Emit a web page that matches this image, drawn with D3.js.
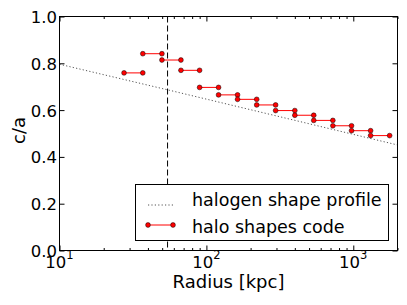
<!DOCTYPE html>
<html lang="en">
<head>
    <meta charset="UTF-8">
    <title>Halo shape c/a</title>
    <style>
        body { margin: 0; background: #fff; }
        svg text { font-family: "DejaVu Sans", sans-serif; fill: #000; }
    </style>
    <script src="https://cdn.jsdelivr.net/npm/d3@7"></script>
</head>
<body>
<script>
    // bin edges of the halo shapes code (kpc) and c/a per bin
    var binEdges = [27.5, 36.9, 49.8, 67.1, 89.9, 121, 163, 220, 296, 400, 538, 726, 973, 1312, 1768];
    var binCa = [0.759, 0.841, 0.814, 0.770, 0.697, 0.665, 0.646, 0.622, 0.598, 0.578, 0.556, 0.533, 0.512, 0.491];

    // halogen shape profile
    var profileRadius = [10, 55, 2000];
    var profileCa = [0.796, 0.686, 0.451];

    var markerRadius = 54.4;

    var xMajor = [10, 100, 1000];
    var xMinor = [20, 30, 40, 50, 60, 70, 80, 90, 200, 300, 400, 500, 600, 700, 800, 900, 2000];
    var yTicks = [0, 0.2, 0.4, 0.6, 0.8, 1.0];

    var margin = {top: 16.5, right: 9.5, bottom: 54.5, left: 59.5};
    var W = 407, H = 305;
    var width = W - margin.left - margin.right;
    var height = H - margin.top - margin.bottom;
    var dotR = 2.4;

    var svg = d3.select("body").append("svg")
        .attr("width", W)
        .attr("height", H);

    var g = svg.append("g")
        .attr("transform", "translate(" + margin.left + "," + margin.top + ")");

    var x = d3.scaleLog().domain([10, 2000]).range([0, width]);
    var y = d3.scaleLinear().domain([0, 1]).range([height, 0]);

    // ticks, all pointing inside
    function tickAxis(axis, values, size, transform) {
        var a = g.append("g")
            .attr("transform", transform || null)
            .call(axis.tickValues(values).tickSizeInner(-size).tickSizeOuter(0).tickFormat(""));
        a.select(".domain").remove();
        a.selectAll("line").attr("stroke", "#000");
        return a;
    }
    tickAxis(d3.axisBottom(x), xMajor, 5, "translate(0," + height + ")");
    tickAxis(d3.axisBottom(x), xMinor, 2.5, "translate(0," + height + ")");
    tickAxis(d3.axisTop(x), xMajor, 5);
    tickAxis(d3.axisTop(x), xMinor, 2.5);
    tickAxis(d3.axisRight(y), yTicks, 5, "translate(" + width + ",0)");

    var yAxis = g.append("g")
        .call(d3.axisLeft(y).tickValues(yTicks).tickSizeInner(-5).tickSizeOuter(0)
            .tickPadding(2.5).tickFormat(d3.format(".1f")));
    yAxis.select(".domain").remove();
    yAxis.selectAll("line").attr("stroke", "#000");
    yAxis.selectAll("text").style("font-size", "16.5px").attr("dy", "0.36em");

    // log labels 10^n
    var xl = g.append("g").selectAll("text")
        .data(xMajor)
        .enter().append("text")
        .attr("x", d => x(d))
        .attr("y", height + 17.5)
        .attr("text-anchor", "middle")
        .style("font-size", "16.5px");
    xl.append("tspan").text("10");
    xl.append("tspan")
        .attr("dy", -9)
        .style("font-size", "11.5px")
        .text(d => Math.round(Math.log10(d)));

    // profile
    var line = d3.line().x(d => x(d[0])).y(d => y(d[1]));
    g.append("path")
        .datum(profileRadius.map((r, i) => [r, profileCa[i]]))
        .attr("d", line)
        .attr("fill", "none")
        .attr("stroke", "#555")
        .attr("stroke-width", 1)
        .attr("stroke-dasharray", "1.2,2.2");

    // vertical marker
    g.append("line")
        .attr("x1", x(markerRadius)).attr("x2", x(markerRadius))
        .attr("y1", 0).attr("y2", height)
        .attr("stroke", "#000")
        .attr("stroke-width", 1)
        .attr("stroke-dasharray", "6,3");

    // shape code bins
    var bins = binCa.map((v, i) => ({r0: binEdges[i], r1: binEdges[i + 1], ca: v}));
    var bg = g.append("g");
    bins.forEach(function(b) {
        bg.append("line")
            .attr("x1", x(b.r0)).attr("x2", x(b.r1))
            .attr("y1", y(b.ca)).attr("y2", y(b.ca))
            .attr("stroke", "#f00")
            .attr("stroke-width", 1);
    });
    bins.forEach(function(b) {
        [b.r0, b.r1].forEach(function(r) {
            bg.append("circle")
                .attr("cx", x(r)).attr("cy", y(b.ca))
                .attr("r", dotR)
                .attr("fill", "#f00")
                .attr("stroke", "#000")
                .attr("stroke-width", 0.5);
        });
    });

    // frame
    g.append("rect")
        .attr("width", width).attr("height", height)
        .attr("fill", "none")
        .attr("stroke", "#000")
        .attr("stroke-width", 1);

    // axis titles
    svg.append("text")
        .attr("x", margin.left + width / 2)
        .attr("y", 288)
        .attr("text-anchor", "middle")
        .style("font-size", "18px")
        .text("Radius [kpc]");

    svg.append("text")
        .attr("transform", "translate(25," + (margin.top + height / 2 - 3) + ") rotate(-90)")
        .attr("text-anchor", "middle")
        .style("font-size", "18px")
        .text("c/a");

    // legend
    var lg = svg.append("g");
    lg.append("rect")
        .attr("x", 135.5).attr("y", 184.5)
        .attr("width", 253).attr("height", 56)
        .attr("fill", "#fff")
        .attr("stroke", "#000")
        .attr("stroke-width", 1);
    lg.append("line")
        .attr("x1", 148).attr("x2", 173)
        .attr("y1", 205).attr("y2", 205)
        .attr("stroke", "#555")
        .attr("stroke-dasharray", "1.2,2.2");
    lg.append("line")
        .attr("x1", 148).attr("x2", 173)
        .attr("y1", 225).attr("y2", 225)
        .attr("stroke", "#f00");
    [148, 173].forEach(function(cx) {
        lg.append("circle")
            .attr("cx", cx).attr("cy", 225).attr("r", dotR)
            .attr("fill", "#f00").attr("stroke", "#000").attr("stroke-width", 0.5);
    });
    lg.append("text").attr("x", 192).attr("y", 206)
        .style("font-size", "17.5px").text("halogen shape profile");
    lg.append("text").attr("x", 192).attr("y", 233)
        .style("font-size", "17.5px").text("halo shapes code");
</script>
</body>
</html>
